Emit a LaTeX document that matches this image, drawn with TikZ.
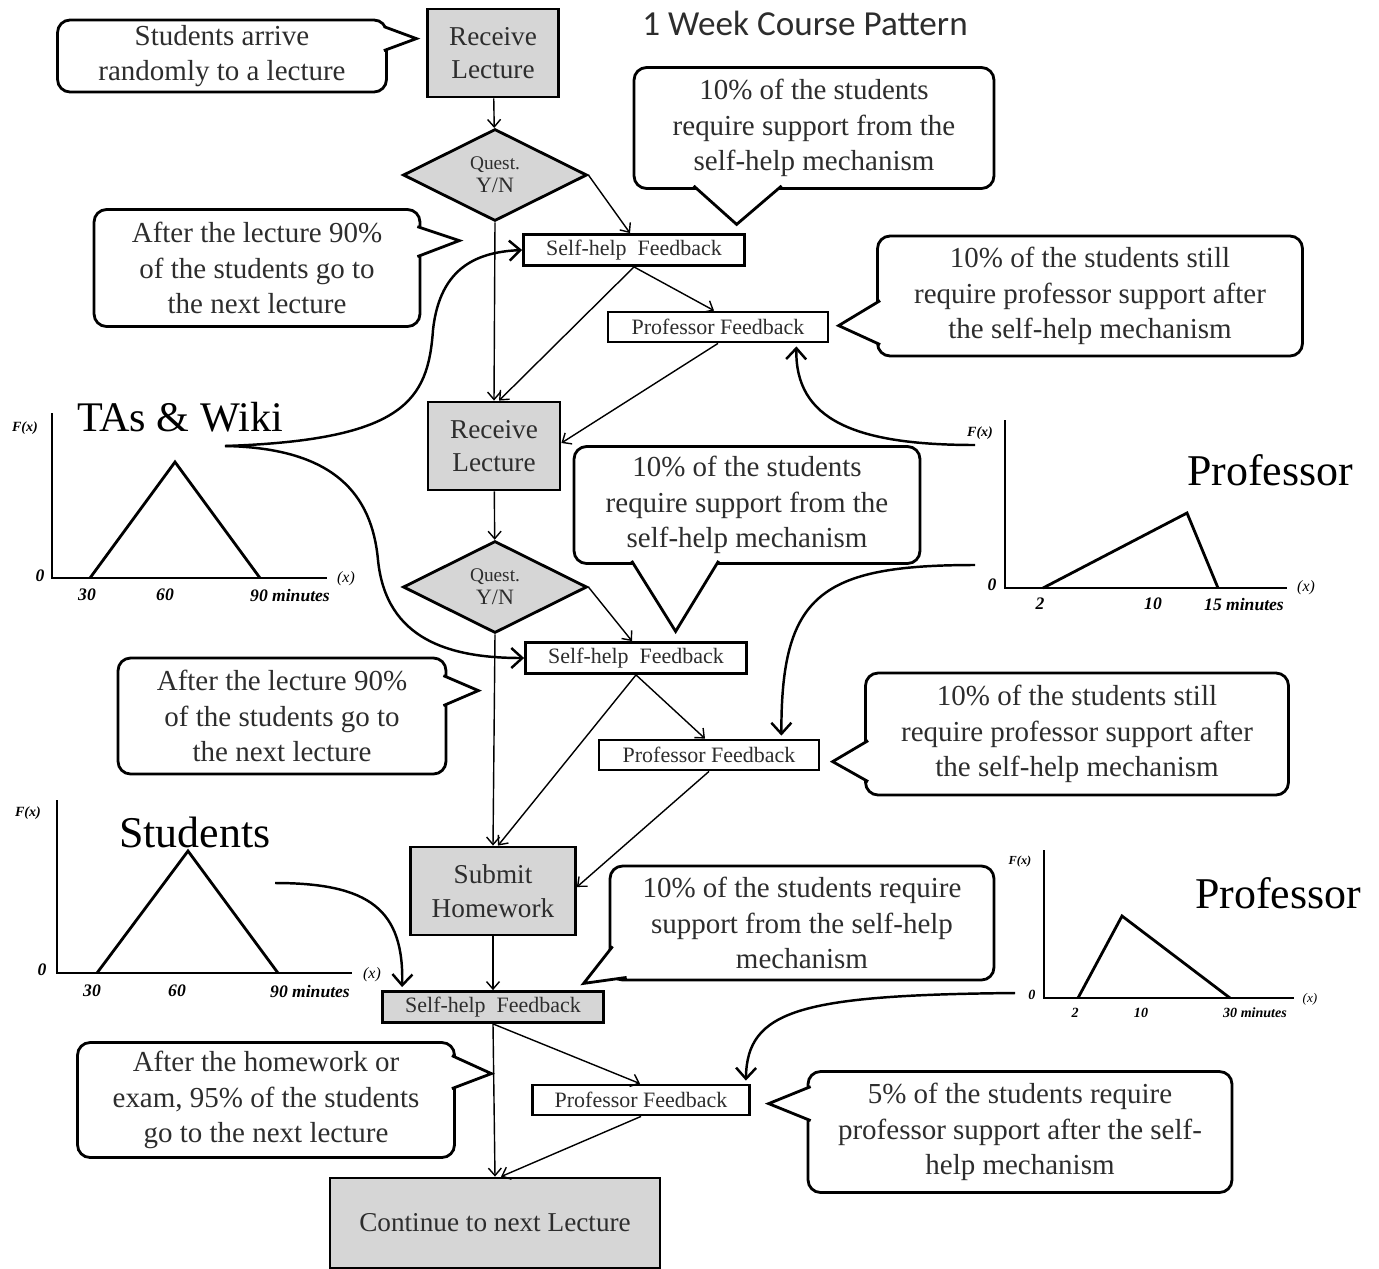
\documentclass[tikz,border=0pt]{standalone}
\usepackage{fontspec}
\setmainfont{Liberation Serif}
\newfontfamily\titlefont{Carlito}
\usetikzlibrary{arrows.meta, shapes.geometric, calc}
\definecolor{boxgray}{RGB}{214,214,214}
\definecolor{inkgray}{RGB}{45,45,45}

\begin{document}
\begin{tikzpicture}[
    x=0.02cm, y=-0.02cm,
    stepbox/.style={rectangle, draw=black, line width=1.6pt, fill=boxgray, inner sep=0pt, align=center, text=inkgray, font=\fontsize{15.5}{19}\selectfont},
    question/.style={diamond, draw=black, line width=1.6pt, fill=boxgray, minimum width=3.68cm, minimum height=1.84cm, inner sep=0pt, align=center, text=inkgray},
    feedback/.style={rectangle, draw=black, line width=1.6pt, fill=white, inner sep=0pt, minimum width=4.42cm, minimum height=0.62cm, text=inkgray, font=\fontsize{12.5}{15}\selectfont},
    note/.style={rectangle, rounded corners=0.25cm, draw=black, line width=1.6pt, fill=white, inner sep=0pt, align=center, text=inkgray, font=\fontsize{16.5}{20.3}\selectfont},
    notetip/.style={draw=black, fill=white, line width=1.6pt, line join=miter},
    flow/.style={-{Straight Barb[length=1.5mm, width=2.6mm]}, line width=0.8pt},
    link/.style={-{Straight Barb[length=2.2mm, width=4mm]}, line width=1.4pt},
    axis/.style={line width=1.6pt},
    tick/.style={font=\fontsize{10}{12}\selectfont\bfseries\itshape, inner sep=0pt},
    smalltick/.style={font=\fontsize{8}{10}\selectfont\bfseries\itshape, inner sep=0pt},
    plotname/.style={font=\fontsize{25}{30}\selectfont, inner sep=0pt}
]
\useasboundingbox (0,0) rectangle (1379,1268);

% title
\node[font=\titlefont\fontsize{20}{24}\selectfont, text=inkgray] (title) at (805,23) {1 Week Course Pattern};

% main flow
\node[stepbox, minimum width=2.62cm, minimum height=1.76cm] (rl1) at (493,53) {Receive\\Lecture};
\node[question] (q1) at (495,175) {\fontsize{11}{13}\selectfont Quest.\\[1pt]\fontsize{12.5}{14}\selectfont Y/N};
\node[feedback] (sh1) at (634,250) {Self-help\ \ Feedback};
\node[feedback, minimum width=4.4cm, minimum height=0.6cm] (pf1) at (718,327) {Professor Feedback};
\node[stepbox, minimum width=2.64cm, minimum height=1.76cm] (rl2) at (494,446) {Receive\\Lecture};
\node[question] (q2) at (495,587) {\fontsize{11}{13}\selectfont Quest.\\[1pt]\fontsize{12.5}{14}\selectfont Y/N};
\node[feedback] (sh2) at (636,658) {Self-help\ \ Feedback};
\node[feedback, minimum width=4.4cm, minimum height=0.6cm] (pf2) at (709,755) {Professor Feedback};
\node[stepbox, minimum width=3.3cm, minimum height=1.76cm] (hw) at (493,891) {Submit\\Homework};
\node[feedback, fill=boxgray] (sh3) at (493,1007) {Self-help\ \ Feedback};
\node[feedback, minimum width=4.34cm, minimum height=0.6cm] (pf3) at (641,1100) {Professor Feedback};
\node[stepbox, minimum width=6.6cm, minimum height=1.8cm] (cont) at (495,1223) {Continue to next Lecture};

\draw[flow] (rl1) -- (q1);
\draw[flow] (q1.east) -- ($(sh1.north)+(-4,0)$);
\draw[flow] (q1.south) -- (rl2.north);
\draw[flow] (sh1.south) -- ($(pf1.north)+(-4,0)$);
\draw[flow] (sh1.south) -- ($(rl2.north)+(5,0)$);
\draw[flow] (pf1.south) -- ($(rl2.east)+(0,-3)$);
\draw[flow] (rl2) -- (q2);
\draw[flow] (q2.east) -- ($(sh2.north)+(-4,0)$);
\draw[flow] (q2.south) -- (hw.north);
\draw[flow] (sh2.south) -- ($(pf2.north)+(-4,0)$);
\draw[flow] (sh2.south) -- ($(hw.north)+(5,0)$);
\draw[flow] (pf2.south) -- ($(hw.east)+(0,-4)$);
\draw[flow] (hw) -- (sh3);
\draw[flow] (sh3.south) -- (cont.north);
\draw[flow] (sh3.south) -- ($(pf3.north)+(-1,0)$);
\draw[flow] (pf3.south) -- ($(cont.north)+(6,0)$);

% callouts
\node[note, minimum width=6.58cm, minimum height=1.44cm] (arrive) at (222,56) {Students arrive\\randomly to a lecture};
\draw[notetip] ($(arrive.north east)+(-4,8)$) -- ($(arrive.north east)+(28.5,20)$) -- ($(arrive.north east)+(-4,32)$);

\node[note, minimum width=7.2cm, minimum height=2.42cm] (selfa) at (814,128) {10\% of the students\\require support from the\\self-help mechanism};
\draw[notetip] ($(selfa.south west)+(61,-4)$) -- ($(selfa.south west)+(104,34.5)$) -- ($(selfa.south west)+(149,-4)$);

\node[note, minimum width=8.5cm, minimum height=2.4cm] (profa) at (1090,296) {10\% of the students still\\require professor support after\\the self-help mechanism};
\draw[notetip] ($(profa.north west)+(4,66)$) -- ($(profa.north west)+(-37.5,91)$) -- ($(profa.north west)+(4,110)$);

\node[note, minimum width=6.52cm, minimum height=2.34cm] (nexta) at (257,268) {After the lecture 90\%\\of the students go to\\the next lecture};
\draw[notetip] ($(nexta.north east)+(-4,18.5)$) -- ($(nexta.north east)+(38,32.5)$) -- ($(nexta.north east)+(-4,48.5)$);

\node[note, minimum width=6.92cm, minimum height=2.34cm] (selfb) at (747,505) {10\% of the students\\require support from the\\self-help mechanism};
\draw[notetip] ($(selfb.south west)+(59,-4)$) -- ($(selfb.south west)+(103,66.5)$) -- ($(selfb.south west)+(146,-4)$);

\node[note, minimum width=6.56cm, minimum height=2.32cm] (nextb) at (282,716) {After the lecture 90\%\\of the students go to\\the next lecture};
\draw[notetip] ($(nextb.north east)+(-4,19)$) -- ($(nextb.north east)+(31,34)$) -- ($(nextb.north east)+(-4,49)$);

\node[note, minimum width=8.46cm, minimum height=2.44cm] (profb) at (1077,734) {10\% of the students still\\require professor support after\\the self-help mechanism};
\draw[notetip] ($(profb.north west)+(4,69)$) -- ($(profb.north west)+(-31.5,90)$) -- ($(profb.north west)+(4,110)$);

\node[note, minimum width=7.68cm, minimum height=2.28cm] (selfc) at (802,923) {10\% of the students require\\support from the self-help\\mechanism};
\draw[notetip] ($(selfc.south west)+(4,-35)$) -- ($(selfc.south west)+(-25,2)$) -- ($(selfc.south west)+(18,-4)$);

\node[note, minimum width=7.54cm, minimum height=2.3cm] (nextc) at (266,1100) {After the homework or\\exam, 95\% of the students\\go to the next lecture};
\draw[notetip] ($(nextc.north east)+(-4,14.5)$) -- ($(nextc.north east)+(35.5,32.5)$) -- ($(nextc.north east)+(-4,47.5)$);

\node[note, minimum width=8.48cm, minimum height=2.42cm] (profc) at (1020,1132) {5\% of the students require\\professor support after the self-\\help mechanism};
\draw[notetip] ($(profc.north west)+(4,16.5)$) -- ($(profc.north west)+(-38,33.5)$) -- ($(profc.north west)+(4,50.5)$);

% TAs & Wiki distribution
\draw[axis] (52,413) -- (52,578) -- (327,578);
\draw[axis] (90,578) -- (175,462) -- (260,578);
\node[plotname, font=\fontsize{24}{29}\selectfont] (tas) at (180,417) {TAs \& Wiki};
\node[smalltick] (tasfx) at (25,428) {F(x)};
\node[tick] (tas0) at (40,576) {0};
\node[tick] (tas30) at (87,595) {30};
\node[tick] (tas60) at (165,595) {60};
\node[tick] (tas90) at (290,595) {90 minutes};
\node[tick, font=\fontsize{9}{11}\selectfont\itshape] (tasx) at (346,579) {(x)};

% Professor distribution (lecture)
\draw[axis] (1005,420) -- (1005,588) -- (1287,588);
\draw[axis] (1043,588) -- (1187,513) -- (1218,588);
\node[plotname] (profone) at (1270,470) {Professor};
\node[smalltick] (pafx) at (980,433) {F(x)};
\node[tick] (pa0) at (992,585) {0};
\node[tick] (pa2) at (1040,604) {2};
\node[tick] (pa10) at (1153,604) {10};
\node[tick] (pa15) at (1244,604) {15 minutes};
\node[tick, font=\fontsize{9}{11}\selectfont\itshape] (pax) at (1306,588) {(x)};

% Students distribution
\draw[axis] (57,800) -- (57,973) -- (352,973);
\draw[axis] (97,973) -- (188,851) -- (278,973);
\node[plotname] (stud) at (195,832) {Students};
\node[smalltick] (sfx) at (28,813) {F(x)};
\node[tick] (s0) at (42,970) {0};
\node[tick] (s30) at (92,991) {30};
\node[tick] (s60) at (177,991) {60};
\node[tick] (s90) at (310,991) {90 minutes};
\node[tick, font=\fontsize{9}{11}\selectfont\itshape] (sx) at (372,975) {(x)};

% Professor distribution (homework)
\draw[axis] (1044,850) -- (1044,998) -- (1294,998);
\draw[axis] (1078,998) -- (1122,916) -- (1230,998);
\node[plotname] (proftwo) at (1278,893) {Professor};
\node[smalltick, font=\fontsize{7}{9}\selectfont\bfseries\itshape] (pbfx) at (1020,862) {F(x)};
\node[smalltick] (pb0) at (1032,995) {0};
\node[smalltick] (pb2) at (1075,1013) {2};
\node[smalltick] (pb10) at (1141,1013) {10};
\node[smalltick] (pb30) at (1255,1013) {30 minutes};
\node[smalltick, font=\fontsize{7.5}{9}\selectfont\itshape] (pbx) at (1310,999) {(x)};

% links from the distributions
\coordinate (tasout) at (225,446);
\coordinate (profoneout) at (975,445);
\coordinate (profonedown) at (975,565);
\coordinate (studout) at (275,883);
\coordinate (proftwoout) at (1015,993);

\draw[link] (tasout) .. controls (405,440) and (428,400) .. (433,330) .. controls (440,265) and (480,252) .. (sh1.west);
\draw[link] (tasout) .. controls (335,448) and (372,495) .. (378,560) .. controls (386,640) and (450,658) .. (sh2.west);
\draw[link] (profoneout) .. controls (855,445) and (795,420) .. ($(pf1.south east)+(-33,3)$);
\draw[link] (profonedown) .. controls (820,565) and (781,595) .. ($(pf2.north east)+(-39,-3)$);
\draw[link] (studout) .. controls (370,883) and (404,910) .. ($(sh3.north west)+(21,-3)$);
\draw[link] (proftwoout) .. controls (800,995) and (747,1010) .. ($(pf3.north east)+(-5,-3)$);

\end{tikzpicture}
\end{document}
